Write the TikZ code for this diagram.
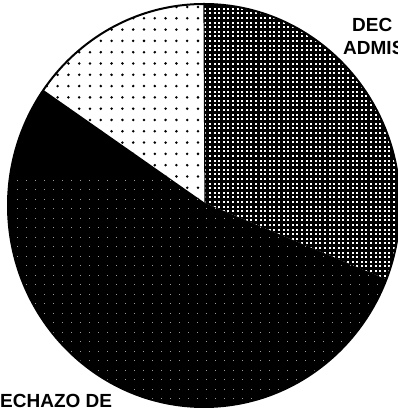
\documentclass[tikz,border=0pt]{standalone}
\usepackage{fontspec}
\setmainfont{Liberation Sans}
\begin{document}
\begin{tikzpicture}[x=1pt,y=1pt,
    lbl/.style={font=\bfseries\fontsize{19}{19}\selectfont, inner sep=0pt, anchor=base west},
    hatch/.style={line width=2.6pt},
    rim/.style={line width=2pt}]

        \useasboundingbox (0,0) rectangle (397,411);
        \fill[white] (0,0) rectangle (397,411);

        %centre and rim points
        \coordinate (mid) at (205,208);
        \coordinate (ctr) at (204,205.5);
        \path (ctr) ++(90:196pt and 201.5pt) coordinate (tp);
        \path (ctr) ++(145:196pt and 201.5pt) coordinate (lf);
        \path (ctr) ++(-21.5:196pt and 201.5pt) coordinate (rt);

        %dark slice
        \fill[black] (mid) -- (lf) arc[start angle=145, end angle=338.5, x radius=196pt, y radius=201.5pt] -- cycle;
        \begin{scope}
        \clip (mid) -- (lf) arc[start angle=145, end angle=338.5, x radius=196pt, y radius=201.5pt] -- cycle;
        \foreach \i in {0,...,43}
            \foreach \j in {0,...,24}
                \fill[white, opacity=0.6] (8+\i*9, 2+\j*9.5) rectangle ++(1.2,1.2);
        \end{scope}

        %crosshatch slice
        \begin{scope}
        \clip (mid) -- (rt) arc[start angle=-21.5, end angle=90, x radius=196pt, y radius=201.5pt] -- cycle;
        \foreach \i in {0,...,43}
            \draw[hatch] (203+\i*4.6,100) -- ++(0,311);
        \foreach \j in {0,...,66}
            \draw[hatch] (200,110+\j*4.6) -- ++(200,0);
        \end{scope}

        %dotted slice
        \begin{scope}
        \clip (mid) -- (tp) arc[start angle=90, end angle=145, x radius=196pt, y radius=201.5pt] -- cycle;
        \foreach \i in {0,...,15}
            \foreach \j in {0,...,18}
                \fill (198-\i*10.8, 404-\j*11.3) circle (1.4pt);
        \end{scope}

        %divider and rim
        \draw[line width=1.2pt] (mid) -- (tp);
        \draw[rim] (ctr) ellipse [x radius=196pt, y radius=201.5pt];

        %labels
        \node[lbl] (dec) at (352,379) {DEC};
        \node[lbl] (admis) at (343,356) {ADMIS};
        \node[lbl] (rechazo) at (0,4) {ECHAZO DE};

\end{tikzpicture}
\end{document}
